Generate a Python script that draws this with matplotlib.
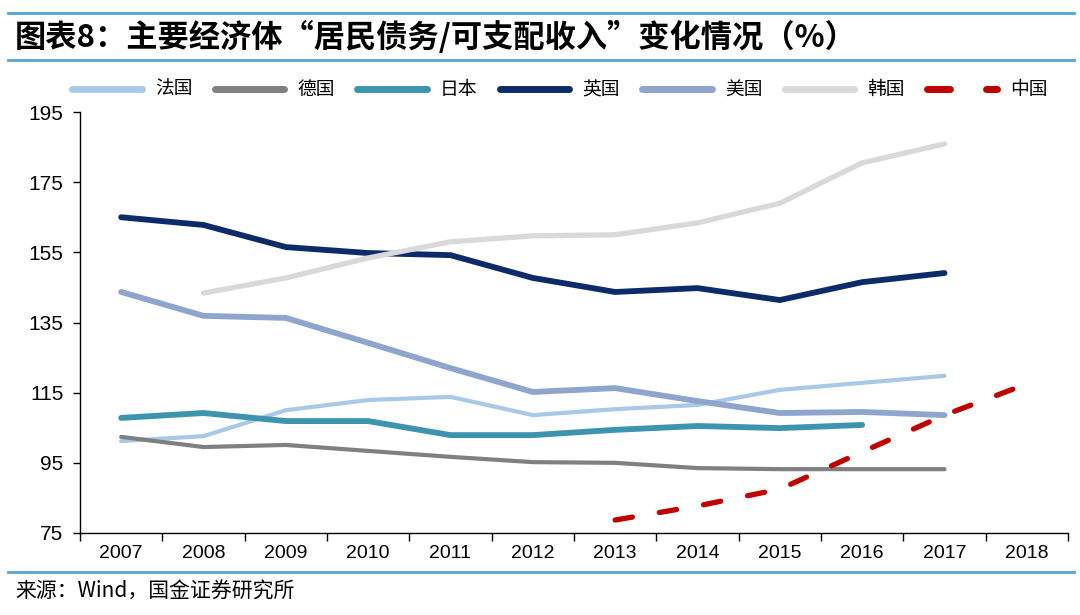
import matplotlib
matplotlib.use('Agg')
import matplotlib.pyplot as plt
import numpy as np
from matplotlib.lines import Line2D

plt.rcParams['font.family'] = ['Liberation Sans', 'Noto Sans CJK SC', 'DejaVu Sans']
CJK = ['Noto Sans CJK SC', 'DejaVu Sans']

# 数据
years = ['2007', '2008', '2009', '2010', '2011', '2012',
         '2013', '2014', '2015', '2016', '2017', '2018']
france = [101.2, 102.6, 110.0, 112.9, 113.8, 108.6, 110.3, 111.5, 115.8, 117.8, 119.8, None]
germany = [102.4, 99.5, 100.1, 98.4, 96.7, 95.2, 95.0, 93.5, 93.2, 93.2, 93.2, None]
japan = [107.8, 109.2, 106.9, 106.9, 102.9, 102.9, 104.4, 105.5, 104.9, 105.8, None, None]
uk = [165.0, 162.8, 156.5, 154.8, 154.2, 147.7, 143.7, 144.8, 141.4, 146.5, 149.1, None]
usa = [143.7, 136.9, 136.3, 129.2, 122.0, 115.2, 116.3, 112.6, 109.2, 109.5, 108.6, None]
korea = [None, 143.4, 147.7, 153.4, 158.0, 159.7, 160.0, 163.4, 169.0, 180.5, 185.9, None]
china = [None, None, None, None, None, None, 78.7, 82.7, 87.5, 98.1, 108.6, 117.5]

series = [
    ('法国', france, '#A9C9E8', 3.0),
    ('德国', germany, '#808080', 3.0),
    ('日本', japan, '#3C94AE', 4.2),
    ('英国', uk, '#0E2B69', 4.2),
    ('美国', usa, '#8FA5CD', 4.2),
    ('韩国', korea, '#D9D9D9', 3.8),
]


def to_arr(vals):
    return np.array([np.nan if v is None else v for v in vals], dtype=float)


fig = plt.figure(figsize=(10.8, 6.15), dpi=100)
ax = fig.add_axes([80 / 1080, 82 / 615, 988 / 1080, 421 / 615])

x = np.arange(len(years))
handles = []
for name, vals, color, lw in series:
    h, = ax.plot(x, to_arr(vals), color=color, lw=lw, solid_capstyle='round',
                 solid_joinstyle='round', label=name)
    handles.append(h)

h, = ax.plot(x, to_arr(china), color='#C00000', lw=3.8, dash_capstyle='round',
             dashes=(3.3, 5.2), label='中国')
handles.append(h)

ax.set_xlim(-0.5, len(years) - 0.5)
ax.set_ylim(75, 195)
ax.set_yticks(np.arange(75, 196, 20))
ax.set_xticks(np.arange(-0.5, len(years), 1.0))
ax.set_xticklabels([])
ax.set_xticks(x, minor=True)
ax.set_xticklabels(years, minor=True)
ax.tick_params(axis='x', which='major', direction='out', length=6, width=1)
ax.tick_params(axis='x', which='minor', length=0, pad=9, labelsize=14)
ax.tick_params(axis='y', direction='out', length=5, width=1, pad=7, labelsize=15)
for s in ['top', 'right']:
    ax.spines[s].set_visible(False)
for s in ['left', 'bottom']:
    ax.spines[s].set_color('black')
    ax.spines[s].set_linewidth(1)

leg = fig.legend(handles=handles, loc='center', bbox_to_anchor=(0.5185, 0.854),
                 ncol=7, frameon=False, handlelength=3.7, handletextpad=0.7,
                 columnspacing=1.2, prop={'family': CJK, 'size': 13.5})
for ln in leg.get_lines():
    ln.set_linewidth(5)

# 标题和分隔线
line_color = '#4FA6D6'
for yy in [1 - 13 / 615, 1 - 60 / 615, 1 - 572 / 615]:
    fig.add_artist(Line2D([8 / 1080, 1074 / 1080], [yy, yy], transform=fig.transFigure,
                          color=line_color, lw=2.0))

fig.text(15 / 1080, 1 - 37 / 615, '图表8：主要经济体“居民债务/可支配收入”变化情况（%）',
         family=CJK, fontsize=22.5, fontweight='bold', va='center', ha='left')
fig.text(15 / 1080, 1 - 592 / 615, '来源：Wind，国金证券研究所',
         family=CJK, fontsize=15, va='center', ha='left')

fig.savefig('out.png', dpi=100)
